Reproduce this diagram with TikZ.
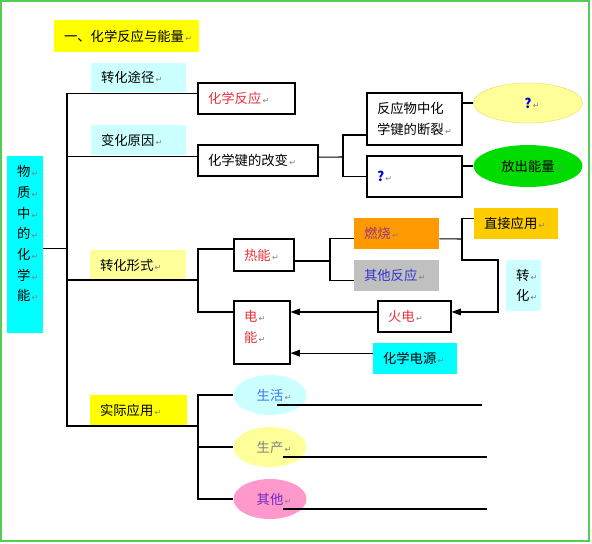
\documentclass[tikz,border=0pt]{standalone}
\usepackage{fontspec}
\setmainfont{Noto Sans CJK SC}
\newfontfamily\markfont{DejaVu Sans}
\usetikzlibrary{shapes.geometric,arrows.meta}
\definecolor{framegreen}{RGB}{85,205,85}
\definecolor{cyanlt}{RGB}{204,255,255}
\definecolor{cyanfull}{RGB}{0,255,255}
\definecolor{yellowfull}{RGB}{255,255,0}
\definecolor{yellowlt}{RGB}{255,255,153}
\definecolor{burnorange}{RGB}{255,153,0}
\definecolor{silver}{RGB}{192,192,192}
\definecolor{gold}{RGB}{255,204,0}
\definecolor{ovalgreen}{RGB}{0,220,0}
\definecolor{ovalrim}{RGB}{235,225,110}
\definecolor{pinkish}{RGB}{255,153,204}
\definecolor{redtxt}{RGB}{230,50,60}
\definecolor{burnpurple}{RGB}{150,50,130}
\definecolor{otherblue}{RGB}{51,51,204}
\definecolor{qblue}{RGB}{0,0,204}
\definecolor{lifeblue}{RGB}{60,120,230}
\definecolor{prodgray}{RGB}{130,130,130}
\definecolor{otherpurple}{RGB}{110,40,200}
\newcommand\retmark{\rlap{\markfont\fontsize{6}{6}\selectfont\color{gray}\,↵}}
\tikzset{
	box/.style={draw, line width=0.8pt, inner xsep=7.5pt, inner ysep=0pt, align=left, minimum height=23.25pt},
	tag/.style={inner xsep=7.5pt, inner ysep=0pt, align=left, minimum height=23.25pt},
	oval/.style={ellipse, inner sep=0pt, minimum width=54.75pt, minimum height=30pt},
	link/.style={line width=0.8pt},
	feed/.style={link, -{Triangle[length=7pt,width=5pt]}}
}

\begin{document}
\begin{tikzpicture}[x=0.75pt, y=-0.75pt, font=\fontsize{10}{15.5}\selectfont]
			%%%%% FRAME %%%%%
			\useasboundingbox (0,0) rectangle (592,543);
			\draw[framegreen, line width=1.5pt] (1,1) rectangle (589,541);
			
			%%%%% BOXES %%%%%
			\node[tag, fill=yellowfull, text width=93.75pt, minimum height=24pt] (title) at (126.5,36) {一、化学反应与能量\retmark};
			
			\node[tag, fill=cyanlt, text width=56.25pt, minimum height=21.75pt] (tjtj) at (138.5,77.5) {转化途径\retmark};
			\node[box, text=redtxt, text width=57.75pt] (hxfy) at (246.5,98.5) {化学反应\retmark};
			
			\node[tag, fill=cyanlt, text width=56.25pt, minimum height=22.5pt] (bhyy) at (138.5,140) {变化原因\retmark};
			\node[box, text width=75pt] (hxj) at (258,160.5) {化学键的改变\retmark};
			\node[box, text width=56.25pt, minimum height=39pt] (dl) at (414.5,119) {反应物中化\\学键的断裂\retmark};
			\node[box, text width=56.25pt, minimum height=30.75pt] (qb) at (414.5,176.5) {\textcolor{qblue}{\bfseries ?}\retmark};
			\node[oval, fill=yellowlt, draw=ovalrim, minimum width=81.75pt] (ye) at (528,103) {\textcolor{qblue}{\bfseries ?}\retmark};
			\node[oval, fill=ovalgreen, minimum width=81.75pt, minimum height=31.5pt] (ge) at (528,166) {放出能量\retmark};
			
			\node[tag, fill=cyanfull, text width=12pt, minimum height=132.75pt, text depth=110pt] (wz) at (25,244.5) {物\retmark\\质\retmark\\中\retmark\\的\retmark\\化\retmark\\学\retmark\\能\retmark};
			
			\node[tag, fill=yellowlt, text width=57pt, minimum height=22.5pt] (zhxs) at (138,265) {转化形式\retmark};
			\node[box, text=redtxt, text width=30pt, minimum height=24pt] (rn) at (264,255) {热能\retmark};
			\node[tag, fill=burnorange, text=burnpurple, text width=48.75pt] (rs) at (396.5,233.5) {燃烧\retmark};
			\node[tag, fill=silver, text=otherblue, text width=48.75pt] (qt) at (396.5,275.5) {其他反应\retmark};
			\node[tag, fill=gold, text width=48pt] (zj) at (516,223.5) {直接应用\retmark};
			\node[tag, fill=cyanlt, text width=11.25pt, minimum height=38.25pt] (zh) at (523.5,285.5) {转\retmark\\化\retmark};
			\node[box, text=redtxt, text width=39.75pt] (hd) at (414.5,316.5) {火电\retmark};
			\node[box, text=redtxt, text width=27pt, minimum height=47.25pt, text depth=24.6pt] (dn) at (262,332.5) {电\retmark\\能\retmark};
			\node[tag, fill=cyanfull, text width=48pt] (hxdy) at (415,358.5) {化学电源\retmark};
			
			\node[tag, fill=yellowfull, text width=57.75pt] (sjyy) at (138.5,410.5) {实际应用\retmark};
			\node[oval, fill=cyanlt, text=lifeblue] (sh) at (270,395) {生活\retmark};
			\node[oval, fill=yellowlt, text=prodgray] (sc) at (270,447) {生产\retmark};
			\node[oval, fill=pinkish, text=otherpurple] (qtt) at (270,499) {其他\retmark};
			
			%%%%% JOINTS %%%%%
			\coordinate (tk) at (67,426);
			\coordinate (j1) at (198,280);
			\coordinate (j2) at (198,426);
			\coordinate (j4) at (343,157);
			\coordinate (j5) at (330,261);
			\coordinate (j6) at (462,239);
			\coordinate (j7) at (498,260);
			\coordinate (a1) at (482,405);
			\coordinate (a2) at (487,457);
			\coordinate (a3) at (487,509);
			
			%%%%% LINES %%%%%
			\draw[link] ([yshift=4pt]hxfy.west) -| (tk) -- (j2);
			\draw[link] ([yshift=-3pt]wz.east) -- ([yshift=-3pt]wz.east -| tk);
			\draw[link] ([yshift=3pt]hxj.west) -- ([yshift=3pt]hxj.west -| tk);
			\draw[link] (j1) -- (j1 -| tk);
			
			\draw[link] ([yshift=2.5pt]hxj.east) -- (j4);
			\draw[link] ([yshift=-12pt]dl.west) -| (j4) |- (qb.west);
			\draw[link] (ye.west -| dl.east) -- (ye.west);
			\draw[link] (ge.west -| qb.east) -- (ge.west);
			
			\draw[link] ([yshift=4.5pt]rn.west) -| (j1) |- ([yshift=15.4pt]dn.west);
			\draw[link] ([yshift=-4.5pt]rn.east) -- (j5);
			\draw[link] ([yshift=-4pt]rs.west) -| (j5) |- ([yshift=-3.4pt]qt.west);
			\draw[link] ([yshift=-4pt]rs.east) -- (j6);
			\draw[feed] ([yshift=4pt]zj.west) -| (j6) |- (j7) |- ([yshift=3.4pt]hd.east);
			\draw[feed] ([yshift=3.4pt]hd.west) -- ([yshift=3.4pt]hd.west -| dn.east);
			\draw[feed] ([yshift=4pt]hxdy.west) -- ([yshift=4pt]hxdy.west -| dn.east);
			
			\draw[link] (sh.west) -| (j2) |- (qtt.west);
			\draw[link] (sc.west) -- (sc.west -| j2);
			\draw[link] ([shift={(7,10)}]sh.center) -- (a1);
			\draw[link] ([shift={(13,10)}]sc.center) -- (a2);
			\draw[link] ([shift={(13,10)}]qtt.center) -- (a3);
			
			%%%%% END %%%%%
\end{tikzpicture}
\end{document}
